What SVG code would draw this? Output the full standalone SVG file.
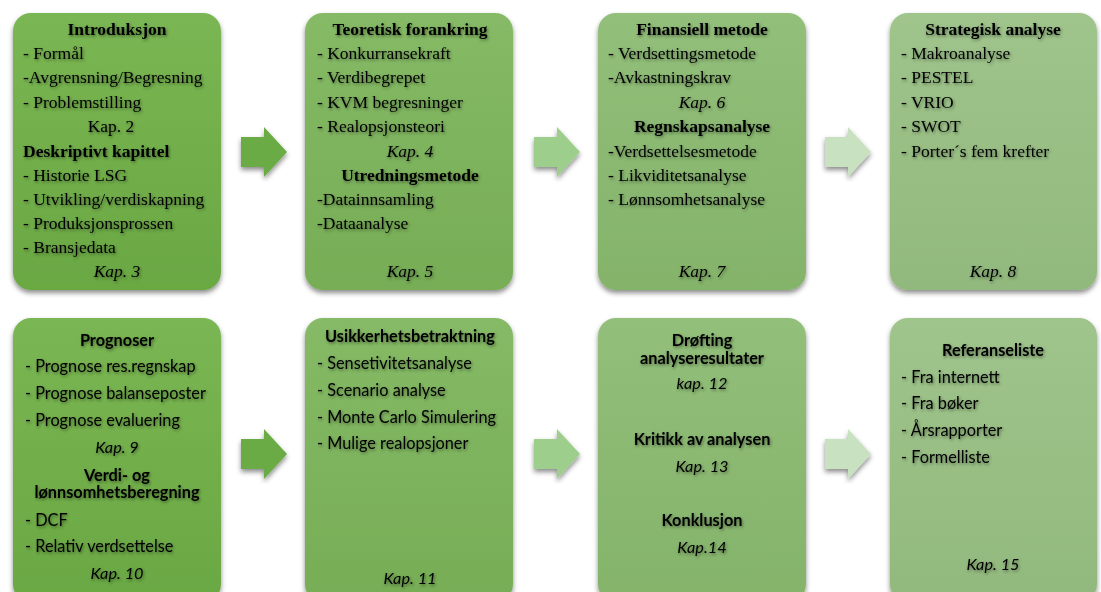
<svg xmlns="http://www.w3.org/2000/svg" width="1101" height="592" viewBox="0 0 1101 592">
<defs>
<filter id="boxsh" x="-10%" y="-10%" width="120%" height="120%">
<feDropShadow dx="0" dy="3" stdDeviation="2.5" flood-color="#000" flood-opacity="0.45"/>
</filter>
<filter id="txtsh" x="-10%" y="-20%" width="120%" height="140%">
<feDropShadow dx="1" dy="1.5" stdDeviation="1.5" flood-color="#000" flood-opacity="0.45"/>
</filter>
<linearGradient id="g1" x1="0" y1="0" x2="0" y2="1"><stop offset="0" stop-color="#7ab653"/><stop offset="1" stop-color="#6aa843"/></linearGradient>
<linearGradient id="g2" x1="0" y1="0" x2="0" y2="1"><stop offset="0" stop-color="#86ba66"/><stop offset="1" stop-color="#76ad55"/></linearGradient>
<linearGradient id="g3" x1="0" y1="0" x2="0" y2="1"><stop offset="0" stop-color="#92bf7a"/><stop offset="1" stop-color="#84b36a"/></linearGradient>
<linearGradient id="g4" x1="0" y1="0" x2="0" y2="1"><stop offset="0" stop-color="#9fc48c"/><stop offset="1" stop-color="#92b97d"/></linearGradient>
</defs>
<style>
.serif{font-family:"Liberation Serif","Times New Roman",serif;font-size:17.5px;fill:#000}
.sans{font-family:Lato,"Open Sans",sans-serif;font-size:16.3px;fill:#000}
.b{font-weight:bold}
.i{font-style:italic}
.c{text-anchor:middle}
.t{filter:url(#txtsh)}
.box{filter:url(#boxsh)}
.arr{filter:url(#boxsh)}
</style>
<rect width="1101" height="592" fill="#fff"/>

<g id="connectors">
<path class="arr" d="M241,137 H264 V127 L287,152 L264,177 V167 H241 Z" fill="#6aab45"/>
<path class="arr" d="M534,137 H557 V127 L580,152 L557,177 V167 H534 Z" fill="#9dce8b"/>
<path class="arr" d="M825,137 H848 V127 L871,152 L848,177 V167 H825 Z" fill="#c8e1c0"/>
<path class="arr" d="M241,439 H264 V429 L287,454 L264,479 V469 H241 Z" fill="#6aab45"/>
<path class="arr" d="M534,439 H557 V429 L580,454 L557,479 V469 H534 Z" fill="#9dce8b"/>
<path class="arr" d="M825,439 H848 V429 L871,454 L848,479 V469 H825 Z" fill="#c8e1c0"/>
</g>

<g id="n1">
<rect class="box" x="13" y="13" width="208" height="277" rx="18" fill="url(#g1)"/>
<g class="serif t">
<text class="b c" x="117" y="35">Introduksjon</text>
<text x="23" y="59">- Formål</text>
<text x="23" y="83">-Avgrensning/Begresning</text>
<text x="23" y="108">- Problemstilling</text>
<text class="c" x="111" y="132">Kap. 2</text>
<text class="b" x="23" y="157">Deskriptivt kapittel</text>
<text x="23" y="181">- Historie LSG</text>
<text x="23" y="205">- Utvikling/verdiskapning</text>
<text x="23" y="229">- Produksjonsprossen</text>
<text x="23" y="253">- Bransjedata</text>
<text class="i c" x="117" y="277">Kap. 3</text>
</g>
</g>

<g id="n2">
<rect class="box" x="305" y="13" width="208" height="277" rx="18" fill="url(#g2)"/>
<g class="serif t">
<text class="b c" x="410" y="35">Teoretisk forankring</text>
<text x="317" y="59">- Konkurransekraft</text>
<text x="317" y="83">- Verdibegrepet</text>
<text x="317" y="108">- KVM begresninger</text>
<text x="317" y="132">- Realopsjonsteori</text>
<text class="i c" x="410" y="157">Kap. 4</text>
<text class="b c" x="410" y="181">Utredningsmetode</text>
<text x="317" y="205">-Datainnsamling</text>
<text x="317" y="229">-Dataanalyse</text>
<text class="i c" x="410" y="277">Kap. 5</text>
</g>
</g>

<g id="n3">
<rect class="box" x="598" y="13" width="208" height="277" rx="18" fill="url(#g3)"/>
<g class="serif t">
<text class="b c" x="702" y="35">Finansiell metode</text>
<text x="608" y="59">- Verdsettingsmetode</text>
<text x="608" y="83">-Avkastningskrav</text>
<text class="i c" x="702" y="108">Kap. 6</text>
<text class="b c" x="702" y="132">Regnskapsanalyse</text>
<text x="608" y="157">-Verdsettelsesmetode</text>
<text x="608" y="181">- Likviditetsanalyse</text>
<text x="608" y="205">- Lønnsomhetsanalyse</text>
<text class="i c" x="702" y="277">Kap. 7</text>
</g>
</g>

<g id="n4">
<rect class="box" x="890" y="13" width="207" height="277" rx="18" fill="url(#g4)"/>
<g class="serif t">
<text class="b c" x="993" y="35">Strategisk analyse</text>
<text x="901" y="59">- Makroanalyse</text>
<text x="901" y="83">- PESTEL</text>
<text x="901" y="108">- VRIO</text>
<text x="901" y="132">- SWOT</text>
<text x="901" y="157">- Porter´s fem krefter</text>
<text class="i c" x="993" y="277">Kap. 8</text>
</g>
</g>

<g id="n5">
<rect class="box" x="13" y="318" width="208" height="284" rx="18" fill="url(#g1)"/>
<g class="sans t">
<text class="b c" x="117" y="346">Prognoser</text>
<text x="25" y="372">- Prognose res.regnskap</text>
<text x="25" y="399">- Prognose balanseposter</text>
<text x="25" y="426">- Prognose evaluering</text>
<text class="i c" x="117" y="453">Kap. 9</text>
<text class="b c" x="117" y="481">Verdi- og</text>
<text class="b c" x="117" y="498">lønnsomhetsberegning</text>
<text x="25" y="526">- DCF</text>
<text x="25" y="552">- Relativ verdsettelse</text>
<text class="i c" x="117" y="579">Kap. 10</text>
</g>
</g>

<g id="n6">
<rect class="box" x="305" y="318" width="208" height="284" rx="18" fill="url(#g2)"/>
<g class="sans t">
<text class="b c" x="410" y="342">Usikkerhetsbetraktning</text>
<text x="317" y="369">- Sensetivitetsanalyse</text>
<text x="317" y="396">- Scenario analyse</text>
<text x="317" y="423">- Monte Carlo Simulering</text>
<text x="317" y="449">- Mulige realopsjoner</text>
<text class="i c" x="410" y="584">Kap. 11</text>
</g>
</g>

<g id="n7">
<rect class="box" x="598" y="318" width="208" height="284" rx="18" fill="url(#g3)"/>
<g class="sans t">
<text class="b c" x="702" y="346">Drøfting</text>
<text class="b c" x="702" y="364">analyseresultater</text>
<text class="i c" x="702" y="389">kap. 12</text>
<text class="b c" x="702" y="445">Kritikk av analysen</text>
<text class="i c" x="702" y="472">Kap. 13</text>
<text class="b c" x="702" y="526">Konklusjon</text>
<text class="i c" x="702" y="553">Kap.14</text>
</g>
</g>

<g id="n8">
<rect class="box" x="890" y="318" width="207" height="284" rx="18" fill="url(#g4)"/>
<g class="sans t">
<text class="b c" x="993" y="356">Referanseliste</text>
<text x="901" y="383">- Fra internett</text>
<text x="901" y="409">- Fra bøker</text>
<text x="901" y="436">- Årsrapporter</text>
<text x="901" y="463">- Formelliste</text>
<text class="i c" x="993" y="570">Kap. 15</text>
</g>
</g>
</svg>
